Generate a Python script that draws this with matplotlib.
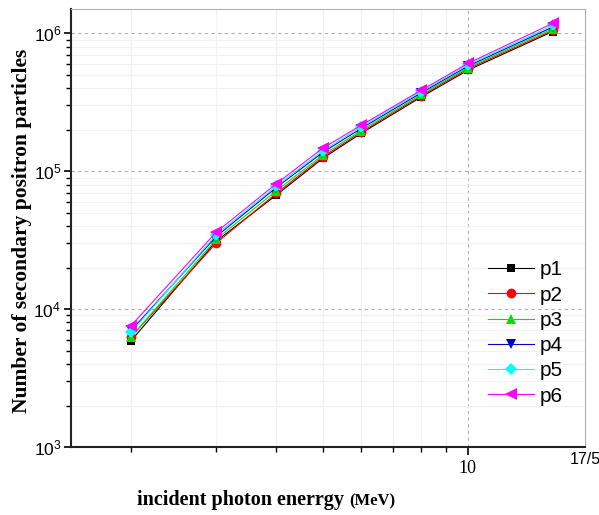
import matplotlib
matplotlib.use("Agg")
import matplotlib.pyplot as plt
from matplotlib.ticker import FixedLocator, NullFormatter, LogLocator

# incident photon energy (MeV)
energy = [2, 3, 4, 5, 6, 8, 10, 15]

# secondary positron counts per configuration
p1 = [5900, 31000, 67000, 124000, 188000, 345000, 540000, 1.03e6]
p2 = [6300, 30000, 69000, 127000, 192000, 352000, 552000, 1.05e6]
p3 = [6300, 32000, 72000, 131000, 197000, 360000, 563000, 1.08e6]
p4 = [7000, 33500, 76000, 137000, 204000, 370000, 578000, 1.11e6]
p5 = [6800, 34500, 78000, 141000, 209000, 378000, 590000, 1.14e6]
p6 = [7600, 36000, 81000, 147000, 215000, 386000, 605000, 1.18e6]

series_names = ["p1", "p2", "p3", "p4", "p5", "p6"]
series_vals = [p1, p2, p3, p4, p5, p6]
colors = ["black", "red", "#00e000", "#0000cc", "#00ffff", "#ff00ff"]
markers = ["s", "o", "^", "v", "D", "<"]
msizes = [6, 7, 7, 7, 6, 8]

fig = plt.figure(figsize=(5.99, 5.15), dpi=100)
ax = fig.add_axes([0.1185, 0.132, 0.858, 0.8505])

for name, vals, c, m, ms in zip(series_names, series_vals, colors, markers, msizes):
    ax.plot(energy, vals, color=c, marker=m, markersize=ms, linewidth=0.8,
            label=name, markeredgewidth=0)

ax.set_xscale("log")
ax.set_yscale("log")
ax.set_xlim(1.5, 17.5)
ax.set_ylim(1e3, 1.5e6)

# x ticks
ax.xaxis.set_major_locator(FixedLocator([10]))
ax.xaxis.set_minor_locator(FixedLocator([2, 3, 4, 5, 6, 7, 8, 9]))
ax.xaxis.set_minor_formatter(NullFormatter())
ax.set_xticklabels(["10"], fontfamily="Liberation Serif", fontsize=13)
ax.text(1.0, -0.012, "17/5", transform=ax.transAxes, ha="center", va="top",
        fontsize=11.5, fontfamily="Liberation Sans")

# y ticks
ax.yaxis.set_major_locator(FixedLocator([1e3, 1e4, 1e5, 1e6]))
ax.yaxis.set_minor_locator(LogLocator(base=10, subs=range(2, 10)))
ax.yaxis.set_minor_formatter(NullFormatter())
ax.set_yticklabels([r"$\mathregular{10^3}$", r"$\mathregular{10^4}$",
                    r"$\mathregular{10^5}$", r"$\mathregular{10^6}$"],
                   fontfamily="Liberation Sans", fontsize=12.5)

ax.tick_params(axis="both", which="major", direction="out", length=5, width=1.2)
ax.tick_params(axis="both", which="minor", direction="out", length=3.5, width=1.0)
ax.tick_params(axis="x", which="major", length=6)
ax.tick_params(axis="y", which="major", pad=2)

# grid
ax.grid(True, which="major", linestyle=(0, (3, 3)), color="#b0b0b0", linewidth=0.8)
ax.grid(True, which="minor", linestyle="-", color="#f2f2f2", linewidth=0.8)
ax.set_axisbelow(True)

for side in ["left", "bottom"]:
    ax.spines[side].set_linewidth(1.5)
    ax.spines[side].set_color("#222222")
for side in ["right", "top"]:
    ax.spines[side].set_linewidth(0.8)
    ax.spines[side].set_color("#b0b0b0")

fig.text(0.037, 0.552, "Number of secondary positron particles", rotation=90,
         ha="center", va="center", fontfamily="Liberation Serif",
         fontweight="bold", fontsize=15.5)
fig.text(0.583, 0.019, "incident photon enerrgy ", ha="right", va="baseline",
         fontfamily="Liberation Serif", fontweight="bold", fontsize=14.5)
fig.text(0.583, 0.019, "(MeV)", ha="left", va="baseline",
         fontfamily="Liberation Serif", fontweight="bold", fontsize=12)

leg = ax.legend(loc="upper left", bbox_to_anchor=(0.795, 0.445), frameon=False,
                prop={"family": "Liberation Sans", "size": 15},
                handlelength=2.2, handletextpad=0.3, labelspacing=0.3,
                borderaxespad=0)

fig.savefig("out.png", dpi=100)
